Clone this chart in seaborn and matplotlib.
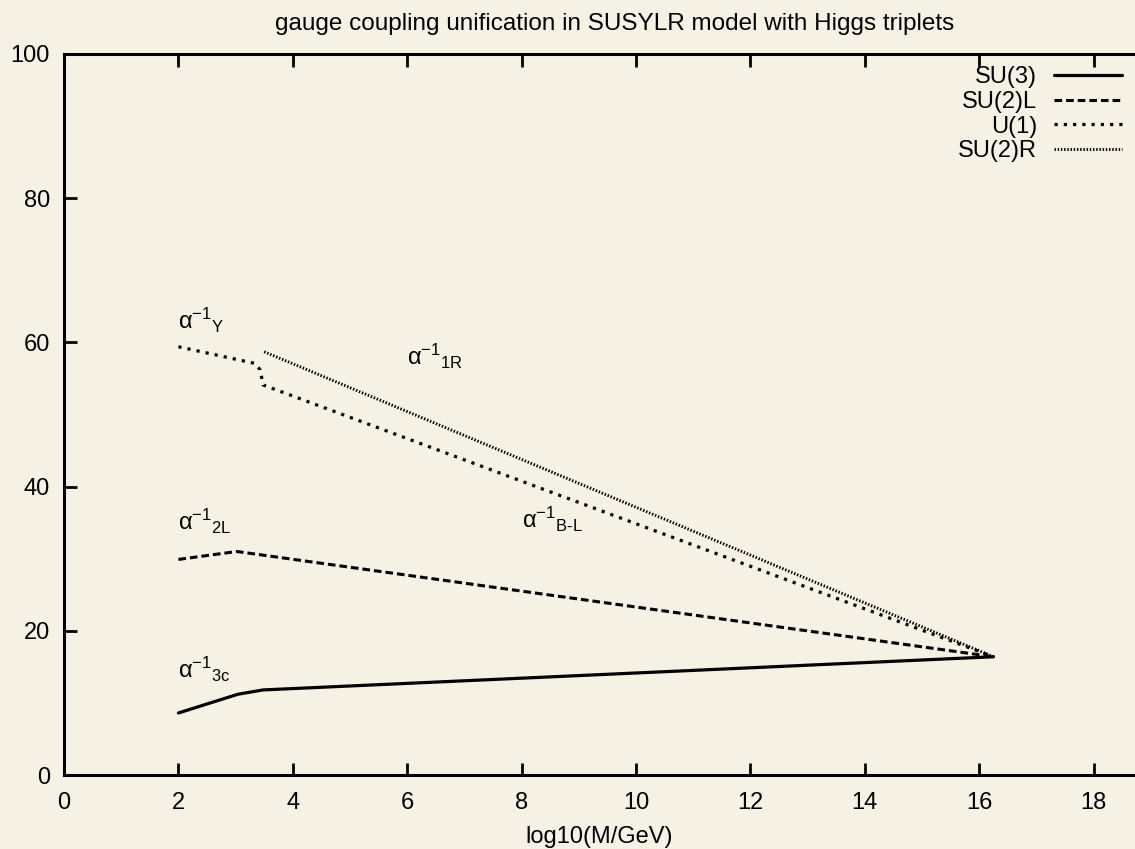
import matplotlib
matplotlib.use("Agg")
import matplotlib.pyplot as plt
import seaborn as sns
import pandas as pd

# ---- data ----
su3_x = [2.0, 3.04, 3.48, 16.25]
su3_y = [8.6, 11.2, 11.8, 16.4]

su2l_x = [2.0, 3.02, 16.25]
su2l_y = [29.9, 31.0, 16.4]

u1_x = [2.0, 3.33, 3.43, 3.48, 16.25]
u1_y = [59.4, 57.1, 56.2, 54.1, 16.4]

su2r_x = [3.5, 16.25]
su2r_y = [58.7, 16.4]

series_names = ["SU(3)", "SU(2)L", "U(1)", "SU(2)R"]

labels_text = [r"$\alpha^{-1}{}_{Y}$", r"$\alpha^{-1}{}_{1R}$", r"$\alpha^{-1}{}_{B\text{-}L}$",
               r"$\alpha^{-1}{}_{2L}$", r"$\alpha^{-1}{}_{3c}$"]
labels_x = [2.0, 6.0, 8.0, 2.0, 2.0]
labels_y = [61.9, 56.9, 34.3, 34.0, 13.45]

x_ticks = [0, 2, 4, 6, 8, 10, 12, 14, 16, 18]
y_ticks = [0, 20, 40, 60, 80, 100]

title = "gauge coupling unification in SUSYLR model with Higgs triplets"
xlabel = "log10(M/GeV)"

# ---- styling ----
sns.set_style("ticks")
plt.rcParams["font.family"] = ["Liberation Sans", "DejaVu Sans"]
plt.rcParams["mathtext.fontset"] = "custom"
plt.rcParams["mathtext.rm"] = "Liberation Sans"
plt.rcParams["mathtext.it"] = "Liberation Sans"
plt.rcParams["mathtext.default"] = "regular"
plt.rcParams["text.color"] = "black"
plt.rcParams["axes.labelcolor"] = "black"
plt.rcParams["xtick.color"] = "black"
plt.rcParams["ytick.color"] = "black"

FS = 17
bg = "#f5f1e5"
fig = plt.figure(figsize=(11.35, 8.49), dpi=100, facecolor=bg)
ax = fig.add_axes([64/1135, 74/849, 1 - 64/1135, (775-54)/849])
ax.set_facecolor(bg)

styles = {
    "SU(3)": dict(linestyle="-", linewidth=2.3),
    "SU(2)L": dict(linestyle=(0, (2.5, 1.3)), linewidth=2.2),
    "U(1)": dict(linestyle=(0, (1.0, 1.9)), linewidth=2.3),
    "SU(2)R": dict(linestyle=(0, (0.5, 0.6)), linewidth=2.1),
}
data = {
    "SU(3)": (su3_x, su3_y),
    "SU(2)L": (su2l_x, su2l_y),
    "U(1)": (u1_x, u1_y),
    "SU(2)R": (su2r_x, su2r_y),
}
for name in series_names:
    xs, ys = data[name]
    df = pd.DataFrame({"x": xs, "y": ys})
    sns.lineplot(data=df, x="x", y="y", ax=ax, color="black", label=name,
                 estimator=None, sort=False, **styles[name])

for t, lx, ly in zip(labels_text, labels_x, labels_y):
    ax.text(lx, ly, t, fontsize=FS, color="black", ha="left", va="baseline")

ax.set_xlim(0, (1135-64)/57.2)
ax.set_ylim(0, 100)
ax.set_xticks(x_ticks)
ax.set_yticks(y_ticks)
ax.tick_params(axis="both", direction="in", length=9, width=2, labelsize=FS,
               top=True, right=False, color="black", labelcolor="black")
ax.tick_params(axis="y", pad=10)
ax.tick_params(axis="x", pad=12)
for s in ["left", "bottom", "top"]:
    ax.spines[s].set_linewidth(2.2)
    ax.spines[s].set_color("black")
ax.spines["right"].set_visible(False)

ax.set_xlabel(xlabel, fontsize=FS, labelpad=9)
ax.set_ylabel("")
fig.text(615/1135, 1 - 24/849, title, fontsize=17.5, ha="center", va="center",
         color="black")

leg = ax.legend(loc="upper right", bbox_to_anchor=(1122/1135, (849-66)/849),
                bbox_transform=fig.transFigure, frameon=False, markerfirst=False,
                fontsize=FS, handlelength=2.9, handletextpad=0.7,
                labelspacing=0.12, borderpad=0, borderaxespad=0)
for txt in leg.get_texts():
    txt.set_ha("right")

fig.savefig("out.png", dpi=100, facecolor=bg)
